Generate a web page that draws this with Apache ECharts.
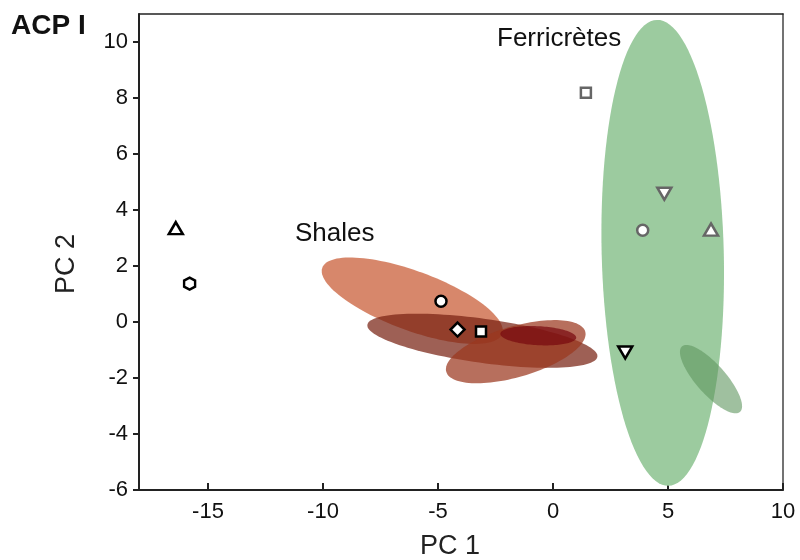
<!DOCTYPE html>
<html><head><meta charset="utf-8">
<script src="https://cdn.jsdelivr.net/npm/echarts@6/dist/echarts.min.js"></script>
<style>html,body{margin:0;padding:0;background:#fff}#c{width:800px;height:560px}</style>
</head><body><div id="c"></div>
<script>
// Axis ticks
const xTicks = [-15, -10, -5, 0, 5, 10];
const yTicks = [-6, -4, -2, 0, 2, 4, 6, 8, 10];

// Shale samples (black outline)
const shalePC1 = [-16.4, -15.8, -4.87, -4.15, -3.13, 3.14];
const shalePC2 = [3.35, 1.37, 0.74, -0.27, -0.34, -1.09];
// Ferricrete samples (grey outline)
const ferriPC1 = [1.43, 4.84, 3.90, 6.87];
const ferriPC2 = [8.19, 4.58, 3.28, 3.30];

// Confidence ellipses: centre, end of major axis, minor/major ratio
const shaleEllCx = [-6.12, -3.07, -1.62, -0.64];
const shaleEllCy = [0.76, -0.67, -1.06, -0.49];
const shaleEllEx = [-10.03, -8.07, -4.64, -2.29];
const shaleEllEy = [1.94, -0.10, -1.78, -0.42];
const shaleEllR  = [0.31, 0.19, 0.35, 0.25];
const ferriEllCx = [4.77, 6.87];
const ferriEllCy = [2.47, -2.04];
const ferriEllEx = [4.52, 5.61];
const ferriEllEy = [10.79, -0.87];
const ferriEllR  = [0.262, 0.34];

// styles
const shaleEllColors = ['rgba(205,105,70,0.8)', 'rgba(120,35,20,0.72)', 'rgba(155,55,30,0.72)', 'rgba(120,10,15,0.72)'];
const ferriEllColors = ['#9ccb9f', 'rgba(95,150,95,0.6)'];
const SYM = {
  tri: 'triangle',
  inv: 'path://M-1,-0.87L1,-0.87L0,0.87Z',
  hex: 'path://M0,-1L0.866,-0.5L0.866,0.5L0,1L-0.866,0.5L-0.866,-0.5Z',
  dia: 'path://M0,-1L1,0L0,1L-1,0Z',
  circ: 'circle',
  sq: 'rect'
};
const shaleSym = [['tri',[14,12]], ['hex',[11,12]], ['circ',11], ['dia',14], ['sq',10], ['inv',[14,12]]];
const ferriSym = [['sq',10], ['inv',[14,12]], ['circ',11], ['tri',[14,12]]];
const FONT = '"Liberation Sans", Arial, sans-serif';

function ellipseData(cx, cy, ex, ey, r) {
  return cx.map((v, i) => [v, cy[i], ex[i], ey[i], r[i]]);
}
function ellipseSeries(data, colors) {
  return {
    type: 'custom',
    silent: true,
    clip: true,
    data: data,
    renderItem: function (params, api) {
      const c = api.coord([api.value(0), api.value(1)]);
      const e = api.coord([api.value(2), api.value(3)]);
      const dx = e[0] - c[0], dy = e[1] - c[1];
      const a = Math.hypot(dx, dy), ang = Math.atan2(dy, dx), b = a * api.value(4);
      const pts = [];
      const n = 120;
      for (let i = 0; i < n; i++) {
        const t = i / n * Math.PI * 2;
        const x = a * Math.cos(t), y = b * Math.sin(t);
        pts.push([c[0] + x * Math.cos(ang) - y * Math.sin(ang), c[1] + x * Math.sin(ang) + y * Math.cos(ang)]);
      }
      return { type: 'polygon', shape: { points: pts }, style: { fill: colors[params.dataIndex] } };
    }
  };
}
function pointSeries(xs, ys, syms, color) {
  return {
    type: 'scatter',
    z: 5,
    data: xs.map((x, i) => ({
      value: [x, ys[i]],
      symbol: SYM[syms[i][0]],
      symbolSize: syms[i][1]
    })),
    itemStyle: { color: '#fff', borderColor: color, borderWidth: 2.5, opacity: 1 }
  };
}

const chart = echarts.init(document.getElementById('c'));
chart.setOption({
  animation: false,
  grid: { left: 139, right: 17, top: 14, bottom: 70 },
  xAxis: [{
    type: 'value', min: -18, max: 10, position: 'bottom',
    axisLine: { onZero: false, lineStyle: { color: '#222', width: 2 } },
    axisTick: { inside: true, length: 7, customValues: xTicks, lineStyle: { color: '#222', width: 2 } },
    axisLabel: { customValues: xTicks, fontSize: 22, color: '#111', margin: 11, fontFamily: FONT },
    splitLine: { show: false }
  }, {
    type: 'value', min: -18, max: 10, position: 'top',
    axisLine: { onZero: false, lineStyle: { color: '#222', width: 1.5 } },
    axisTick: { show: false }, axisLabel: { show: false }, splitLine: { show: false }
  }],
  yAxis: [{
    type: 'value', min: -6, max: 11, position: 'left',
    axisLine: { onZero: false, lineStyle: { color: '#222', width: 2 } },
    axisTick: { inside: false, length: 6, customValues: yTicks, lineStyle: { color: '#222', width: 2 } },
    axisLabel: { customValues: yTicks, fontSize: 22, color: '#111', margin: 11, fontFamily: FONT },
    splitLine: { show: false }
  }, {
    type: 'value', min: -6, max: 11, position: 'right',
    axisLine: { onZero: false, lineStyle: { color: '#444', width: 1.5 } },
    axisTick: { show: false }, axisLabel: { show: false }, splitLine: { show: false }
  }],
  graphic: [
    { type: 'text', left: 11, top: 12, style: { text: 'ACP I', font: 'bold 28px ' + FONT, fill: '#111' } },
    { type: 'text', x: 450, y: 547, style: { text: 'PC 1', font: '27px ' + FONT, fill: '#222', align: 'center', verticalAlign: 'middle' } },
    { type: 'text', x: 67, y: 264, rotation: Math.PI / 2, style: { text: 'PC 2', font: '27px ' + FONT, fill: '#222', align: 'center', verticalAlign: 'middle' } },
    { type: 'text', x: 295, y: 234, style: { text: 'Shales', font: '26px ' + FONT, fill: '#111', align: 'left', verticalAlign: 'middle' } },
    { type: 'text', x: 497, y: 39, style: { text: 'Ferricrètes', font: '26px ' + FONT, fill: '#111', align: 'left', verticalAlign: 'middle' } }
  ],
  series: [
    ellipseSeries(ellipseData(ferriEllCx, ferriEllCy, ferriEllEx, ferriEllEy, ferriEllR), ferriEllColors),
    ellipseSeries(ellipseData(shaleEllCx, shaleEllCy, shaleEllEx, shaleEllEy, shaleEllR), shaleEllColors),
    pointSeries(shalePC1, shalePC2, shaleSym, '#000'),
    pointSeries(ferriPC1, ferriPC2, ferriSym, '#666')
  ]
});
</script>
</body></html>
